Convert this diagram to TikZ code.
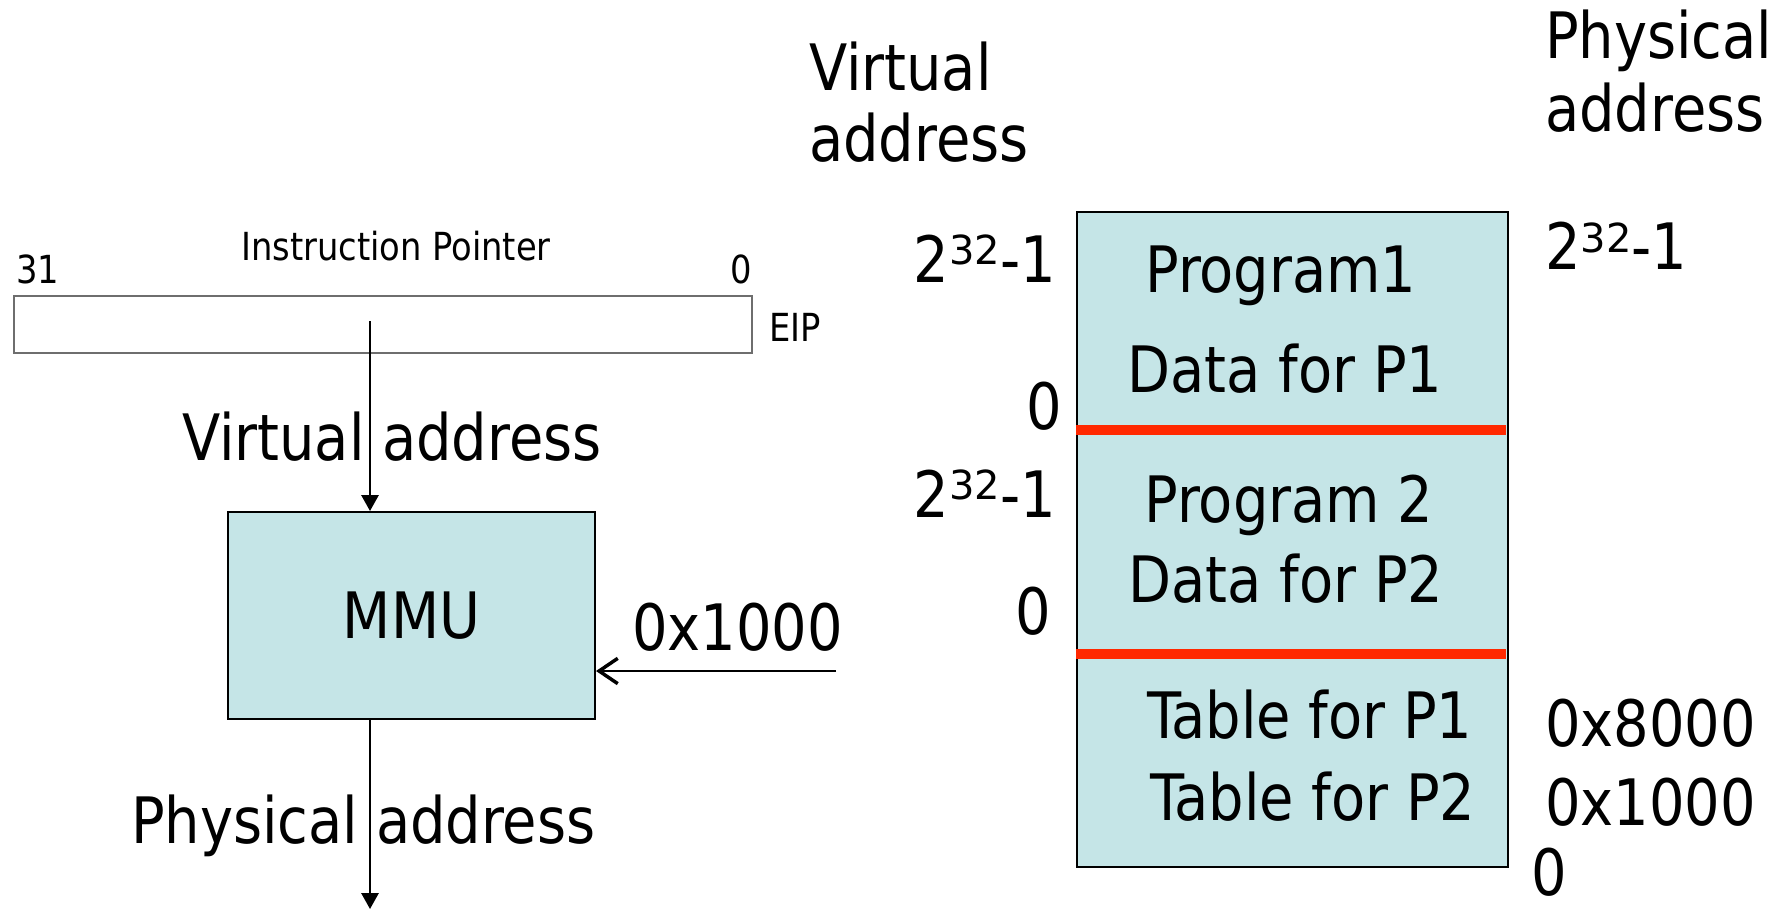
\documentclass[tikz,border=0pt]{standalone}
\usepackage{fontspec}
\setmainfont[FakeStretch=0.97]{DejaVu Sans Condensed}
\newfontfamily\supfont{DejaVu Sans}
\usetikzlibrary{arrows.meta}
\definecolor{memfill}{RGB}{197,229,231}
\definecolor{sepred}{RGB}{255,40,0}
\definecolor{regline}{RGB}{110,110,110}
\newcommand\powlabel{2\raisebox{0.27em}{\supfont\fontsize{30}{30}\selectfont 32}-1}
\begin{document}
\begin{tikzpicture}[x=0.75pt,y=-0.75pt,
  big/.style={font=\fontsize{48}{56}\selectfont, inner sep=0pt},
  small/.style={font=\fontsize{29}{34}\selectfont, inner sep=0pt},
  boxstyle/.style={draw=black, line width=1.5pt, fill=memfill, inner sep=0pt},
  conn/.style={line width=1.5pt},
  tri/.style={conn, -{Triangle[length=12pt,width=13pt]}},
  barb/.style={conn, -{Straight Barb[length=14pt,width=19pt,line width=2.6pt]}},
  sep/.style={sepred, line width=7.5pt}]
\useasboundingbox (0,0) rectangle (1781,909);

% ---- left part ----
\node[small, anchor=base] (iptitle) at (396,261) {Instruction Pointer};
\node[small, anchor=base west] (b31) at (16,284) {31};
\node[small, anchor=base east] (b0) at (752,284) {0};
\node[draw=regline, line width=1.5pt, minimum width=553.5pt, minimum height=42.75pt, inner sep=0pt] (eip) at (383,324.5) {};
\node[small, anchor=base west] (eiplbl) at (769,341) {EIP};

\node[big, anchor=base west] (vaddr) at (182,460) {Virtual address};
\node[boxstyle, minimum width=275.25pt, minimum height=155.25pt, font=\fontsize{48}{56}\selectfont] (mmu) at (411.5,615.5) {MMU};
\node[big, anchor=base west] (base) at (632,650) {0x1000};
\node[big, anchor=base west] (paddr) at (131,843) {Physical address};

\coordinate (ipin) at (370,321);
\coordinate (pout) at (370,909);
\coordinate (offs) at (836,671);
\draw[tri] (ipin) -- (mmu.north -| ipin);
\draw[tri] (mmu.south -| pout) -- (pout);
\draw[barb] (offs) -- (mmu.east |- offs);

% ---- right part ----
\node[big, anchor=base west] (vt1) at (809,91) {Virtual};
\node[big, anchor=base west] (vt2) at (809,162) {address};
\node[big, anchor=base west] (pt1) at (1545,59) {Physical};
\node[big, anchor=base west] (pt2) at (1545,132) {address};

\node[boxstyle, minimum width=323.25pt, minimum height=491.25pt] (mem) at (1292.5,539.5) {};
\coordinate (sep1) at (1506,430);
\coordinate (sep2) at (1506,654);
\draw[sep] (mem.west |- sep1) -- (sep1);
\draw[sep] (mem.west |- sep2) -- (sep2);

\node[big, anchor=base] (p1) at (1281,293) {Program1};
\node[big, anchor=base] (d1) at (1285,392) {Data for P1};
\node[big, anchor=base] (p2) at (1289,522) {Program 2};
\node[big, anchor=base] (d2) at (1286,602) {Data for P2};
\node[big, anchor=base] (t1) at (1310,738) {Table for P1};
\node[big, anchor=base] (t2) at (1313,820) {Table for P2};

\node[big, anchor=base east] (vtop1) at (1056,282) {\powlabel};
\node[big, anchor=base east] (vbot1) at (1062,429) {0};
\node[big, anchor=base east] (vtop2) at (1056,517) {\powlabel};
\node[big, anchor=base east] (vbot2) at (1051,634) {0};

\node[big, anchor=base west] (ptop) at (1545,270) {\powlabel};
\node[big, anchor=base west] (pa8) at (1545,746) {0x8000};
\node[big, anchor=base west] (pa1) at (1545,825) {0x1000};
\node[big, anchor=base west] (pa0) at (1531,895) {0};
\end{tikzpicture}
\end{document}
